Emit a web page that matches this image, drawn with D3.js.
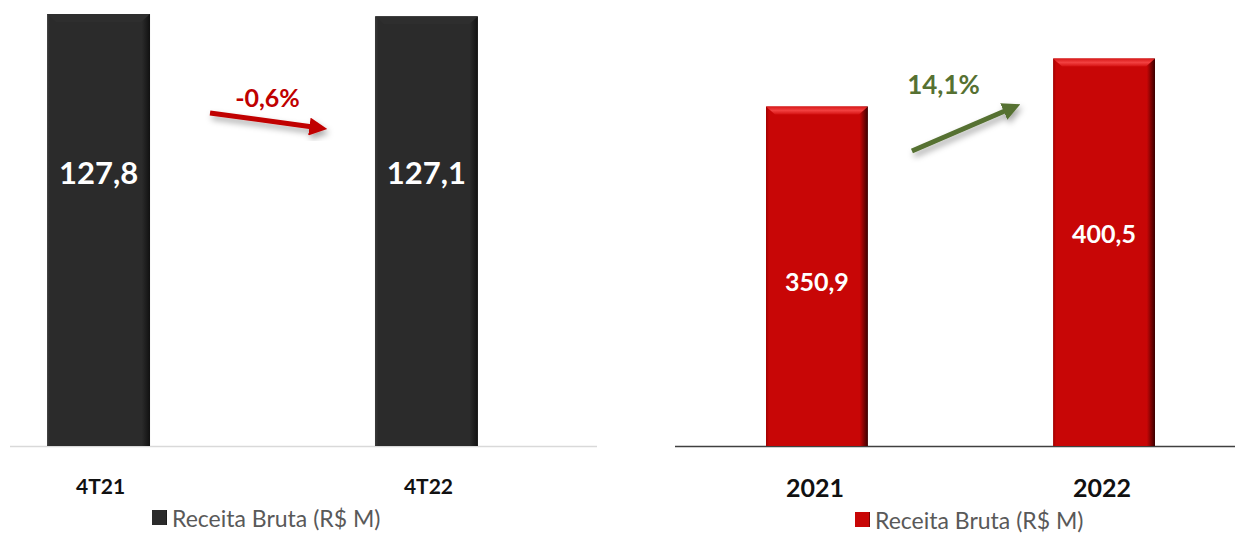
<!DOCTYPE html>
<html>
<head>
<meta charset="utf-8">
<script src="https://cdn.jsdelivr.net/npm/d3@7"></script>
<style>
  html, body { margin: 0; padding: 0; background: #fff; }
  svg { display: block; font-family: Lato, "Open Sans", sans-serif; }
</style>
</head>
<body>
<svg id="chart" width="1235" height="534"></svg>
<script>
// ─── DATA ───
const quarterCats = ['4T21', '4T22'];
const quarterValues = [127.8, 127.1];
const quarterChange = '-0,6%';

const yearCats = ['2021', '2022'];
const yearValues = [350.9, 400.5];
const yearChange = '14,1%';

const legendLabel = 'Receita Bruta (R$ M)';

const fmt = v => v.toFixed(1).replace('.', ',');

const svg = d3.select('#chart');
const defs = svg.append('defs');

// drop shadow for arrows
const shadow = defs.append('filter').attr('id', 'shadow')
    .attr('x', '-30%').attr('y', '-60%').attr('width', '160%').attr('height', '260%');
shadow.append('feDropShadow').attr('dx', 2).attr('dy', 4).attr('stdDeviation', 3)
    .attr('flood-color', '#000').attr('flood-opacity', 0.35);

// side gradients for bevelled bars
const makeGrad = (id, edge, mid, dark) => {
    const g = defs.append('linearGradient').attr('id', id)
        .attr('x1', '0%').attr('x2', '100%').attr('y1', '0%').attr('y2', '0%');
    g.append('stop').attr('offset', '0%').attr('stop-color', edge);
    g.append('stop').attr('offset', '3%').attr('stop-color', mid);
    g.append('stop').attr('offset', '92%').attr('stop-color', mid);
    g.append('stop').attr('offset', '100%').attr('stop-color', dark);
};
makeGrad('darkBar', '#3a3a3a', '#2b2b2b', '#111');
makeGrad('redBar', '#a00000', '#c80606', '#3a0000');

// top bevel gradient for the red bars
const topGrad = defs.append('linearGradient').attr('id', 'redTop')
    .attr('x1', '0%').attr('x2', '0%').attr('y1', '0%').attr('y2', '100%');
topGrad.append('stop').attr('offset', '0%').attr('stop-color', '#d81818');
topGrad.append('stop').attr('offset', '50%').attr('stop-color', '#f24040');
topGrad.append('stop').attr('offset', '100%').attr('stop-color', '#d41010');

const arrowHead = (id, color) => {
    defs.append('marker').attr('id', id)
        .attr('viewBox', '0 0 10 10').attr('refX', 2).attr('refY', 5)
        .attr('markerWidth', 3.6).attr('markerHeight', 3.6)
        .attr('orient', 'auto')
        .append('path').attr('d', 'M0,0 L10,5 L0,10 Z').attr('fill', color);
};
arrowHead('headRed', '#c00000');
arrowHead('headGreen', '#567132');

// ─── PANEL BUILDER ───
function drawPanel(opts) {
    const { cats, values, x, y, grad, topColor, labelSize, catSize, baseColor, baseX } = opts;
    const base = y(0);
    const g = svg.append('g');

    g.append('line')
        .attr('x1', baseX[0]).attr('x2', baseX[1])
        .attr('y1', base + 0.5).attr('y2', base + 0.5)
        .attr('stroke', baseColor).attr('stroke-width', 1.5);

    const bars = g.selectAll('.bar').data(values).enter().append('g');
    bars.append('rect')
        .attr('x', (d, i) => x(cats[i]))
        .attr('y', d => y(d))
        .attr('width', x.bandwidth())
        .attr('height', d => base - y(d))
        .attr('fill', `url(#${grad})`);
    // top bevel
    bars.append('path')
        .attr('d', (d, i) => {
            const x0 = x(cats[i]), x1 = x0 + x.bandwidth(), t = y(d);
            return `M${x0},${t} L${x1},${t} L${x1 - 9},${t + 8} L${x0 + 9},${t + 8} Z`;
        })
        .attr('fill', topColor);

    bars.append('text')
        .attr('x', (d, i) => x(cats[i]) + x.bandwidth() / 2)
        .attr('y', d => opts.labelY(d))
        .attr('text-anchor', 'middle')
        .attr('dominant-baseline', 'central')
        .attr('fill', '#fff')
        .attr('font-weight', 'bold')
        .attr('font-size', labelSize)
        .text(d => fmt(d));

    g.selectAll('.cat').data(cats).enter().append('text')
        .attr('x', d => x(d) + x.bandwidth() / 2 + opts.catDx)
        .attr('y', opts.catY)
        .attr('text-anchor', 'middle')
        .attr('dominant-baseline', 'central')
        .attr('font-weight', 'bold')
        .attr('font-size', catSize)
        .attr('fill', '#111')
        .text(d => d);

    return g;
}

// ─── LEFT: QUARTER ───
const xL = d3.scaleBand().domain(quarterCats).range([10, 515])
    .paddingInner(0.686).paddingOuter(0.113);
const yL = d3.scaleLinear().domain([0, 127.8]).range([446, 14]);

const left = drawPanel({
    cats: quarterCats, values: quarterValues, x: xL, y: yL,
    grad: 'darkBar', topColor: '#2e2e2e', labelSize: 31, catSize: 21,
    baseColor: '#d9d9d9', baseX: [10, 597],
    labelY: () => 172, catY: 485, catDx: 2
});

// change arrow between bars
{
    const xa = xL(quarterCats[0]) + xL.bandwidth() + 60;
    const xb = xL(quarterCats[1]) - 62;
    left.append('line')
        .attr('x1', xa).attr('y1', 113).attr('x2', xb).attr('y2', 127)
        .attr('stroke', '#c00000').attr('stroke-width', 5)
        .attr('marker-end', 'url(#headRed)')
        .attr('filter', 'url(#shadow)');
    left.append('text')
        .attr('x', (xa + xb) / 2 + 6).attr('y', 97)
        .attr('text-anchor', 'middle').attr('dominant-baseline', 'central')
        .attr('font-weight', 'bold').attr('font-size', 25).attr('fill', '#c00000')
        .text(quarterChange);
}

// ─── RIGHT: YEAR ───
const xR = d3.scaleBand().domain(yearCats).range([675, 1246])
    .paddingInner(0.645).paddingOuter(0.317);
const yR = d3.scaleLinear().domain([0, 461]).range([446, 0]);

const right = drawPanel({
    cats: yearCats, values: yearValues, x: xR, y: yR,
    grad: 'redBar', topColor: 'url(#redTop)', labelSize: 25, catSize: 25,
    baseColor: '#404040', baseX: [675, 1235],
    labelY: d => yR(d) + 174, catY: 487, catDx: -2
});

{
    const xa = xR(yearCats[0]) + xR.bandwidth() + 44;
    const xb = xR(yearCats[1]) - 46;
    right.append('line')
        .attr('x1', xa).attr('y1', 151).attr('x2', xb).attr('y2', 110)
        .attr('stroke', '#567132').attr('stroke-width', 5)
        .attr('marker-end', 'url(#headGreen)')
        .attr('filter', 'url(#shadow)');
    right.append('text')
        .attr('x', (xa + xb) / 2 - 16).attr('y', 84)
        .attr('text-anchor', 'middle').attr('dominant-baseline', 'central')
        .attr('font-weight', 'bold').attr('font-size', 26).attr('fill', '#567132')
        .text(yearChange);
}

// ─── LEGENDS ───
const legend = (x0, yc, fill) => {
    const g = svg.append('g');
    g.append('rect').attr('x', x0).attr('y', yc - 8).attr('width', 15).attr('height', 15)
        .attr('fill', fill);
    g.append('text').attr('x', x0 + 20).attr('y', yc)
        .attr('dominant-baseline', 'central')
        .attr('font-size', 23).attr('fill', '#595959')
        .text(legendLabel);
};
legend(152, 518, 'url(#darkBar)');
legend(855, 520, 'url(#redBar)');
</script>
</body>
</html>
